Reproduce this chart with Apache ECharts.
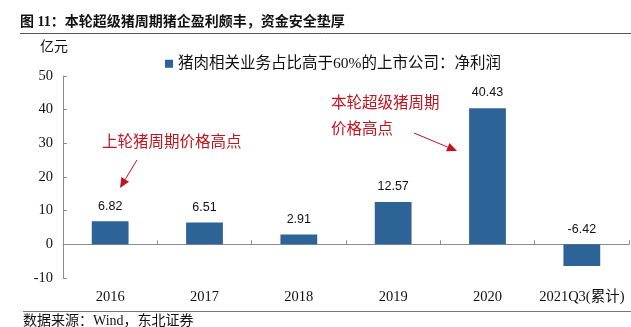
<!DOCTYPE html>
<html><head><meta charset="utf-8">
<script src="https://cdn.jsdelivr.net/npm/echarts@6/dist/echarts.min.js"></script>
<style>html,body{margin:0;padding:0;background:#fff}#c{width:631px;height:327px}</style>
</head><body><div id="c"></div>
<script>
const categories = ['2016','2017','2018','2019','2020','2021Q3(累计)'];
const profits = [6.82, 6.51, 2.91, 12.57, 40.43, -6.42];
const seriesName = '猪肉相关业务占比高于60%的上市公司：净利润';
const yMin = -10, yMax = 50, yStep = 10;

const serif = '"Liberation Serif","Noto Sans CJK SC",serif';
const sans = '"Liberation Sans","Noto Sans CJK SC",sans-serif';
const red = '#C0141E';

function arrow(x1,y1,x2,y2,len,half){
  const dx=x2-x1, dy=y2-y1, L=Math.hypot(dx,dy), ux=dx/L, uy=dy/L;
  const bx=x2-ux*len, by=y2-uy*len;
  return [
    {type:'line',shape:{x1:x1,y1:y1,x2:bx,y2:by},style:{stroke:red,lineWidth:1}},
    {type:'polygon',shape:{points:[[x2,y2],[bx-uy*half,by+ux*half],[bx+uy*half,by-ux*half]]},style:{fill:red}}
  ];
}

const chart = echarts.init(document.getElementById('c'));
chart.setOption({
  animation:false,
  backgroundColor:'#fff',
  grid:{left:63,right:2,top:76,bottom:49,containLabel:false,outerBoundsMode:'none'},
  legend:{show:true,left:160,top:51,itemWidth:8,itemHeight:8,icon:'rect',itemGap:5,
    textStyle:{fontFamily:serif,fontSize:15.5,color:'#111'}},
  xAxis:{type:'category',data:categories,
    axisLine:{onZero:true,lineStyle:{color:'#8c8c8c',width:1}},
    axisTick:{show:true,inside:true,length:4,alignWithLabel:false,lineStyle:{color:'#8c8c8c'}},
    axisLabel:{interval:0,margin:12,fontFamily:serif,fontSize:14.5,color:'#111'}},
  yAxis:{type:'value',min:yMin,max:yMax,interval:yStep,
    axisLine:{show:true,lineStyle:{color:'#8c8c8c'}},
    axisTick:{show:true,inside:true,length:4,lineStyle:{color:'#8c8c8c'}},
    splitLine:{show:false},
    axisLabel:{margin:10,fontFamily:serif,fontSize:14.5,color:'#111'}},
  series:[{name:seriesName,type:'bar',data:profits,barWidth:'39%',
    itemStyle:{color:'#2E6398'},
    label:{show:true,position:'top',distance:9,fontFamily:sans,fontSize:12.5,color:'#111',
      formatter:p=>p.value.toFixed(2)}}],
  graphic:[
    {type:'text',left:20,top:15,style:{text:'图 11：本轮超级猪周期猪企盈利颇丰，资金安全垫厚',fontFamily:serif,fontWeight:'bold',fontSize:14,fill:'#111'}},
    {type:'line',shape:{x1:20,y1:33.5,x2:631,y2:33.5},style:{stroke:'#555',lineWidth:1}},
    {type:'text',left:40,top:40,style:{text:'亿元',fontFamily:serif,fontSize:14,fill:'#111'}},
    {type:'line',shape:{x1:23,y1:311.5,x2:631,y2:311.5},style:{stroke:'#777',lineWidth:1}},
    {type:'text',left:23,top:314,style:{text:'数据来源：Wind，东北证券',fontFamily:serif,fontSize:14,fill:'#111'}},
    {type:'text',left:102,top:135,style:{text:'上轮猪周期价格高点',fontFamily:serif,fontSize:15.5,fill:red}},
    {type:'text',left:331,top:91,style:{text:'本轮超级猪周期\n价格高点',fontFamily:serif,fontSize:15.5,lineHeight:26,fill:red}},
    ...arrow(137,160,120,188,10,4.5),
    ...arrow(414,133,457,151,10,4.5)
  ]
});
</script></body></html>
